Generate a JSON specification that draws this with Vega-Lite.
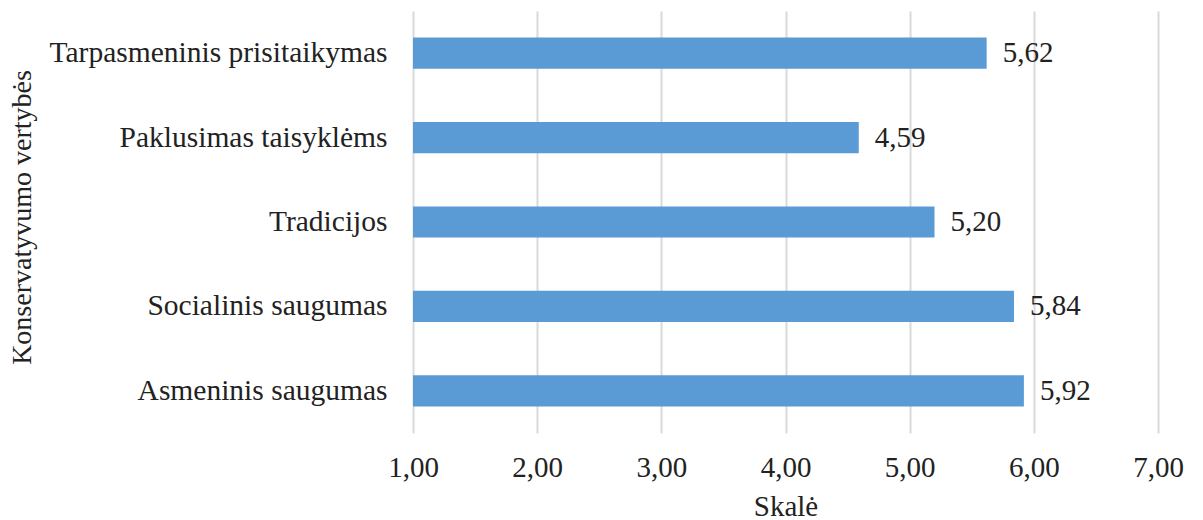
{
  "$schema": "https://vega.github.io/schema/vega-lite/v6.json",
  "width": 745,
  "height": 422,
  "autosize": {"type": "none"},
  "padding": {"left": 413, "top": 11, "right": 45, "bottom": 87},
  "background": "white",
  "config": {
    "view": {"stroke": null},
    "font": "Liberation Serif",
    "locale": {"number": {"decimal": ",", "thousands": " ", "grouping": [3], "currency": ["", " €"]}}
  },
  "data": {
    "values": [
      {"cat": "Tarpasmeninis prisitaikymas", "v": 5.62},
      {"cat": "Paklusimas taisyklėms", "v": 4.59},
      {"cat": "Tradicijos", "v": 5.20},
      {"cat": "Socialinis saugumas", "v": 5.84},
      {"cat": "Asmeninis saugumas", "v": 5.92}
    ]
  },
  "encoding": {
    "y": {
      "field": "cat",
      "type": "nominal",
      "sort": null,
      "scale": {"paddingInner": 0.63, "paddingOuter": 0.315},
      "axis": {
        "title": "Konservatyvumo vertybės",
        "titleFont": "Liberation Serif",
        "titleFontSize": 28,
        "titleFontWeight": "normal",
        "titleColor": "#222222",
        "titleX": -391,
        "titleY": 206,
        "titleBaseline": "middle",
        "labelFont": "Liberation Serif",
        "labelFontSize": 29.5,
        "labelColor": "#222222",
        "labelPadding": 26,
        "labelLimit": 0,
        "ticks": false,
        "domain": false,
        "grid": false
      }
    }
  },
  "layer": [
    {
      "mark": {"type": "bar", "color": "#5b9bd5"},
      "encoding": {
        "x": {
          "field": "v",
          "type": "quantitative",
          "scale": {"domain": [1, 7], "nice": false, "zero": false},
          "axis": {
            "title": "Skalė",
            "titleFont": "Liberation Serif",
            "titleFontSize": 29,
            "titleFontWeight": "normal",
            "titleColor": "#222222",
            "titlePadding": 10,
            "values": [1, 2, 3, 4, 5, 6, 7],
            "format": ".2f",
            "labelFlush": false,
            "labelOverlap": false,
            "labelFont": "Liberation Serif",
            "labelFontSize": 29,
            "labelColor": "#222222",
            "labelPadding": 20,
            "ticks": false,
            "domain": false,
            "grid": true,
            "gridColor": "#d9d9d9",
            "gridWidth": 2
          }
        },
        "x2": {"datum": 1}
      }
    },
    {
      "mark": {"type": "text", "align": "left", "baseline": "middle", "dx": 16, "fontSize": 29, "font": "Liberation Serif", "color": "#222222"},
      "encoding": {
        "x": {"field": "v", "type": "quantitative"},
        "text": {"field": "v", "type": "quantitative", "format": ".2f"}
      }
    }
  ]
}
